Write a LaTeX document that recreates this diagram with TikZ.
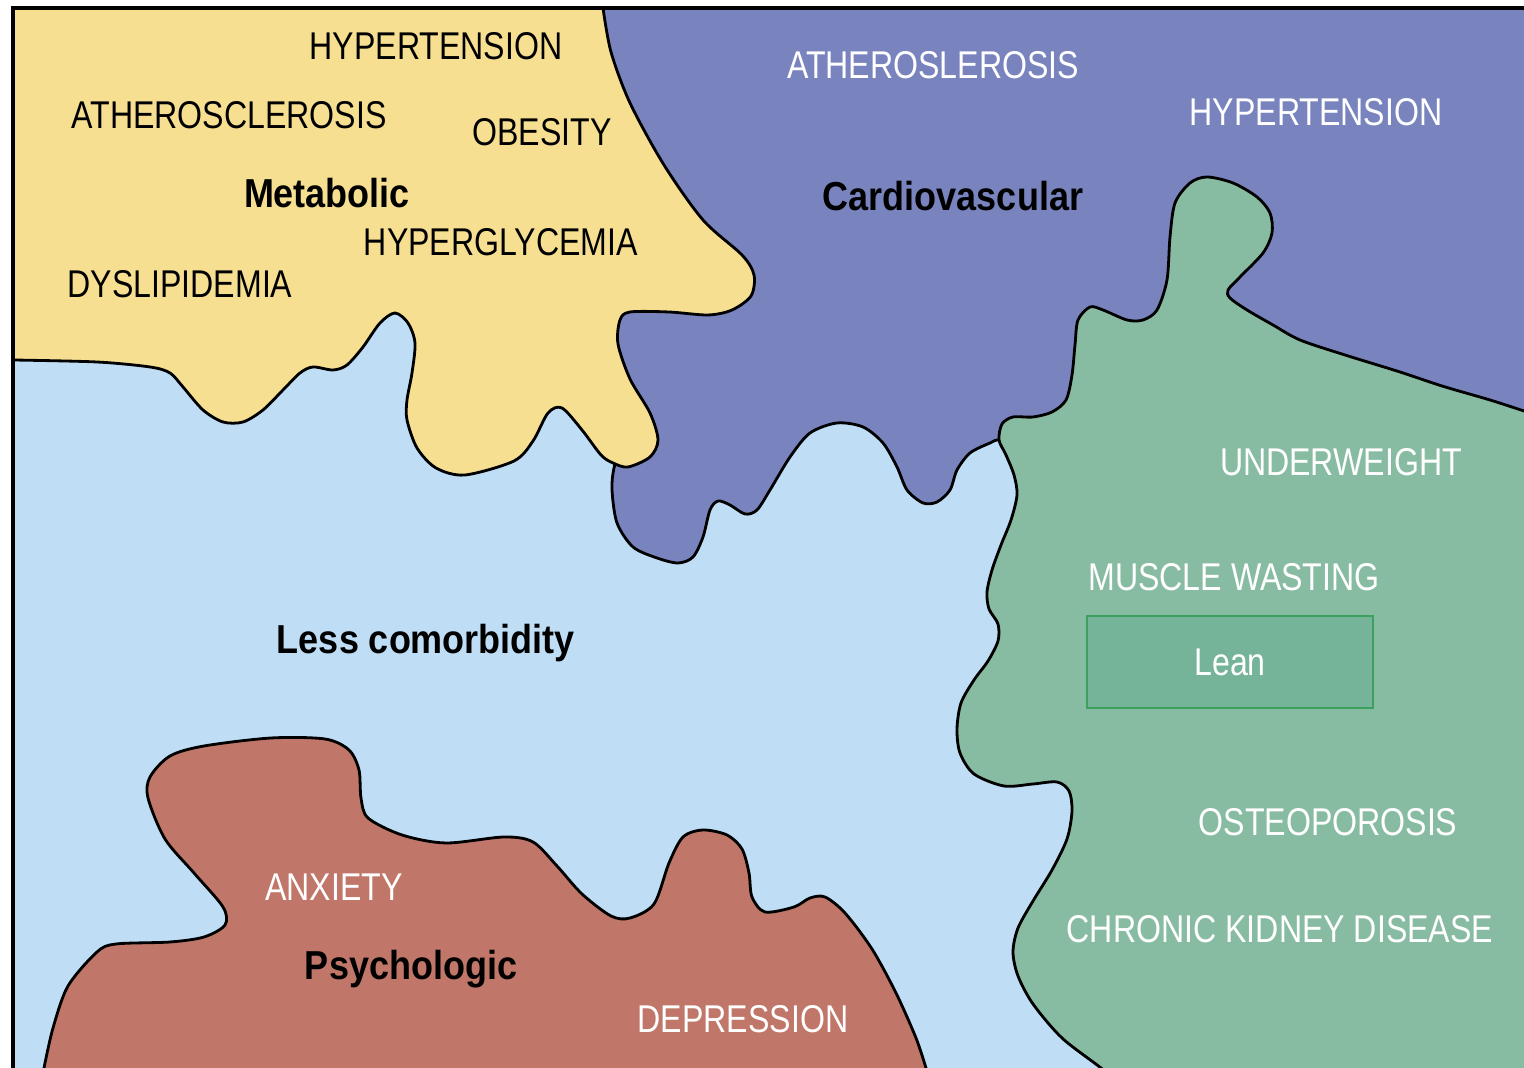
\documentclass[tikz,border=0pt]{standalone}
\usepackage{fontspec}
\usepackage{tikz}
\newfontfamily\itemfont[FakeStretch=0.83]{Liberation Sans}
\newfontfamily\catfont[FakeStretch=0.89]{Liberation Sans}
\definecolor{metayellow}{HTML}{F7DF92}
\definecolor{cardioblue}{HTML}{7984BF}
\definecolor{lessblue}{HTML}{BFDEF6}
\definecolor{leangreen}{HTML}{88BCA2}
\definecolor{leanbox}{HTML}{76B499}
\definecolor{leanedge}{HTML}{3CA05F}
\definecolor{psychred}{HTML}{C07668}

\begin{document}
\begin{tikzpicture}[x=0.01cm, y=-0.01cm,
  blob/.style={draw=black, line width=0.8pt, line join=round},
  item/.style={font=\itemfont\fontsize{11}{13}\selectfont, anchor=base, inner sep=0pt},
  cat/.style={font=\catfont\bfseries\fontsize{11.5}{14}\selectfont, anchor=base, inner sep=0pt}]
  \useasboundingbox (0,0) rectangle (1524,1068);
  \begin{scope}
    \clip (13,8) rectangle (1524,1068);
    \fill[lessblue] (13,8) rectangle (1524,1068);
    % cardiovascular
    \filldraw[blob, fill=cardioblue] (580,-20) -- (600,300) -- (622,445) -- plot[smooth] coordinates {(622,445) (614,468) (612,490) (617,523) (633,547) (657,558) (678,563) (693,557) (703,537) (710,510) (718,501) (730,505) (745,514) (757,510) (770,490) (790,457) (810,433) (837,423) (863,427) (883,443) (897,467) (907,490) (923,503) (937,502) (950,490) (957,470) (970,453) (990,443) (1000,440) (1030,445)} -- (1540,445) -- (1540,-20) -- cycle;
    % lean
    \filldraw[blob, fill=leangreen] (1540,411) -- plot[smooth] coordinates {(1524,411) (1490,400) (1442,386) (1400,372) (1345,355) (1300,340) (1273,325) (1247,310) (1230,298) (1228,290) (1240,277) (1263,253) (1272,233) (1270,213) (1257,197) (1233,183) (1207,177) (1190,183) (1175,203) (1170,237) (1167,280) (1157,310) (1143,320) (1127,320) (1103,310) (1090,307) (1078,320) (1075,345) (1072,375) (1066,400) (1052,412) (1033,417) (1013,417) (1002,424) (999,440) (1006,455) (1014,475) (1017,495) (1011,520) (1001,545) (992,570) (987,592) (989,609) (998,624) (998,641) (988,661) (974,680) (961,703) (957,729) (960,753) (974,774) (1004,786) (1033,784) (1057,782) (1069,791) (1072,811) (1067,839) (1052,870) (1033,901) (1018,928) (1013,952) (1018,976) (1033,1004) (1062,1038) (1101,1068) (1120,1085)} -- (1540,1085) -- cycle;
    % metabolic
    \filldraw[blob, fill=metayellow] (-20,-20) -- (603,-20) -- plot[smooth] coordinates {(603,8) (611,52) (630,103) (664,165) (703,220) (742,255) (754,275) (751,296) (732,310) (708,315) (669,312) (630,312) (620,320) (618,344) (630,379) (650,413) (658,440) (650,457) (628,467) (613,463) (601,455) (582,430) (562,408) (548,413) (533,441) (514,461) (465,475) (436,468) (417,448) (407,420) (407,400) (412,373) (415,343) (408,323) (395,313) (380,323) (363,347) (347,365) (333,370) (313,367) (300,373) (283,390) (263,410) (243,422) (223,422) (203,410) (183,387) (170,373) (150,367) (97,362) (13,360)} -- (-20,360) -- cycle;
    % psychologic
    \filldraw[blob, fill=psychred] (40,1085) -- plot[smooth] coordinates {(44,1068) (53,1028) (68,986) (97,952) (116,944) (170,942) (204,937) (225,925) (223,907) (194,873) (165,839) (148,798) (150,777) (170,756) (204,746) (271,738) (325,739) (349,750) (359,770) (361,798) (368,818) (402,835) (446,843) (504,837) (533,842) (557,866) (582,894) (611,916) (630,918) (654,904) (669,863) (683,837) (703,830) (727,835) (742,849) (749,873) (752,897) (765,912) (794,907) (810,898) (825,897) (845,913) (872,949) (896,993) (916,1038) (926,1068)} -- (930,1085) -- cycle;
  \end{scope}
  \draw[line width=0.9pt] (13,1068) -- (13,8) -- (1530,8);

  \node[item] (hyperMet) at (436,60) {HYPERTENSION};
  \node[item] (atheroMet) at (229,129) {ATHEROSCLEROSIS};
  \node[item] (obesity) at (542,146) {OBESITY};
  \node[cat] (metabolic) at (327,208) {Metabolic};
  \node[item] (hyperglyc) at (501,256) {HYPERGLYCEMIA};
  \node[item] (dyslip) at (180,298) {DYSLIPIDEMIA};

  \node[item, text=white] (atheroCard) at (933,79) {ATHEROSLEROSIS};
  \node[item, text=white] (hyperCard) at (1316,126) {HYPERTENSION};
  \node[cat] (cardio) at (953,211) {Cardiovascular};

  \node[item, text=white] (underw) at (1341,476) {UNDERWEIGHT};
  \node[item, text=white] (muscle) at (1234,591) {MUSCLE WASTING};
  \node[draw=leanedge, line width=0.6pt, fill=leanbox, minimum width=2.86cm, minimum height=0.92cm, text=white, font=\itemfont\fontsize{11}{13}\selectfont] (lean) at (1230,662) {Lean};
  \node[item, text=white] (osteo) at (1328,836) {OSTEOPOROSIS};
  \node[item, text=white] (ckd) at (1280,943) {CHRONIC KIDNEY DISEASE};

  \node[cat] (less) at (426,654) {Less comorbidity};

  \node[item, text=white] (anxiety) at (334,901) {ANXIETY};
  \node[cat] (psych) at (411,980) {Psychologic};
  \node[item, text=white] (depress) at (743,1033) {DEPRESSION};
\end{tikzpicture}
\end{document}
